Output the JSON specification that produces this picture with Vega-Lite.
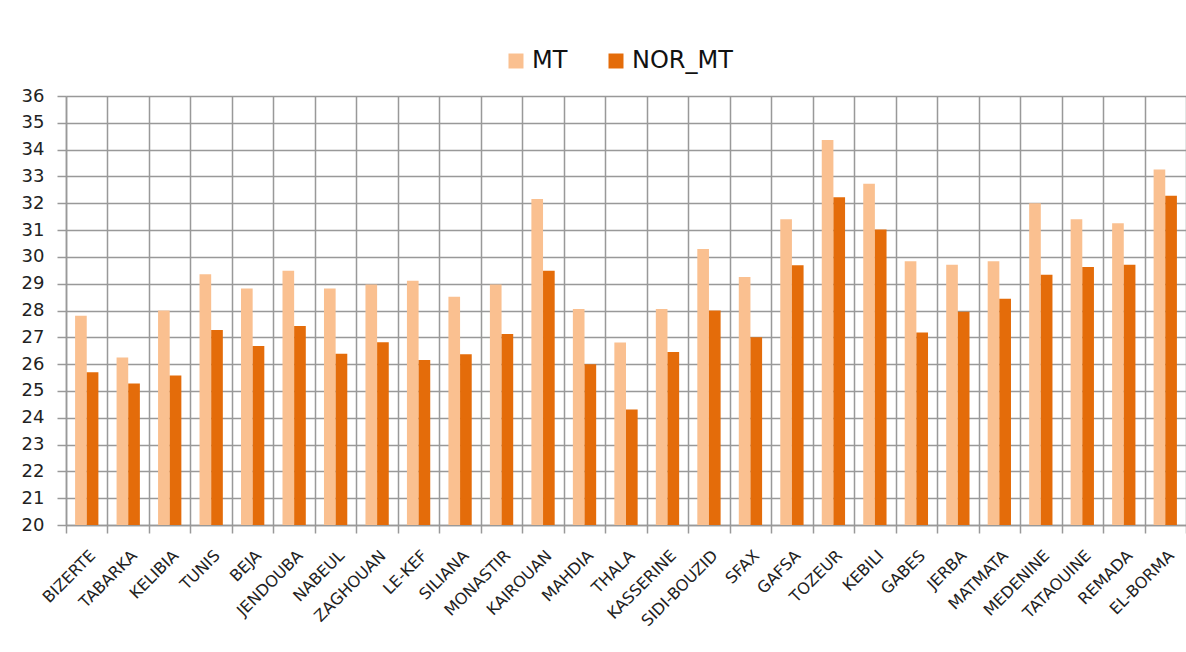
{
  "$schema": "https://vega.github.io/schema/vega-lite/v6.json",
  "autosize": {"type": "none"},
  "width": 1120,
  "height": 429,
  "padding": {"left": 66, "top": 96, "right": 0, "bottom": 127},
  "background": "white",
  "data": {"values": [
    {"station": "BIZERTE", "series": "MT", "value": 27.8},
    {"station": "BIZERTE", "series": "NOR_MT", "value": 25.7},
    {"station": "TABARKA", "series": "MT", "value": 26.25},
    {"station": "TABARKA", "series": "NOR_MT", "value": 25.28},
    {"station": "KELIBIA", "series": "MT", "value": 28.0},
    {"station": "KELIBIA", "series": "NOR_MT", "value": 25.58},
    {"station": "TUNIS", "series": "MT", "value": 29.35},
    {"station": "TUNIS", "series": "NOR_MT", "value": 27.27},
    {"station": "BEJA", "series": "MT", "value": 28.82},
    {"station": "BEJA", "series": "NOR_MT", "value": 26.68},
    {"station": "JENDOUBA", "series": "MT", "value": 29.48},
    {"station": "JENDOUBA", "series": "NOR_MT", "value": 27.42},
    {"station": "NABEUL", "series": "MT", "value": 28.82},
    {"station": "NABEUL", "series": "NOR_MT", "value": 26.39},
    {"station": "ZAGHOUAN", "series": "MT", "value": 28.97},
    {"station": "ZAGHOUAN", "series": "NOR_MT", "value": 26.82},
    {"station": "LE-KEF", "series": "MT", "value": 29.11},
    {"station": "LE-KEF", "series": "NOR_MT", "value": 26.15},
    {"station": "SILIANA", "series": "MT", "value": 28.51},
    {"station": "SILIANA", "series": "NOR_MT", "value": 26.37},
    {"station": "MONASTIR", "series": "MT", "value": 28.97},
    {"station": "MONASTIR", "series": "NOR_MT", "value": 27.12},
    {"station": "KAIROUAN", "series": "MT", "value": 32.16},
    {"station": "KAIROUAN", "series": "NOR_MT", "value": 29.48},
    {"station": "MAHDIA", "series": "MT", "value": 28.06},
    {"station": "MAHDIA", "series": "NOR_MT", "value": 26.0},
    {"station": "THALA", "series": "MT", "value": 26.81},
    {"station": "THALA", "series": "NOR_MT", "value": 24.31},
    {"station": "KASSERINE", "series": "MT", "value": 28.06},
    {"station": "KASSERINE", "series": "NOR_MT", "value": 26.45},
    {"station": "SIDI-BOUZID", "series": "MT", "value": 30.29},
    {"station": "SIDI-BOUZID", "series": "NOR_MT", "value": 28.0},
    {"station": "SFAX", "series": "MT", "value": 29.25},
    {"station": "SFAX", "series": "NOR_MT", "value": 27.0},
    {"station": "GAFSA", "series": "MT", "value": 31.4},
    {"station": "GAFSA", "series": "NOR_MT", "value": 29.69},
    {"station": "TOZEUR", "series": "MT", "value": 34.36},
    {"station": "TOZEUR", "series": "NOR_MT", "value": 32.22},
    {"station": "KEBILI", "series": "MT", "value": 32.73},
    {"station": "KEBILI", "series": "NOR_MT", "value": 31.02},
    {"station": "GABES", "series": "MT", "value": 29.84},
    {"station": "GABES", "series": "NOR_MT", "value": 27.18},
    {"station": "JERBA", "series": "MT", "value": 29.71},
    {"station": "JERBA", "series": "NOR_MT", "value": 27.95},
    {"station": "MATMATA", "series": "MT", "value": 29.84},
    {"station": "MATMATA", "series": "NOR_MT", "value": 28.44},
    {"station": "MEDENINE", "series": "MT", "value": 32.0},
    {"station": "MEDENINE", "series": "NOR_MT", "value": 29.33},
    {"station": "TATAOUINE", "series": "MT", "value": 31.4},
    {"station": "TATAOUINE", "series": "NOR_MT", "value": 29.62},
    {"station": "REMADA", "series": "MT", "value": 31.25},
    {"station": "REMADA", "series": "NOR_MT", "value": 29.71},
    {"station": "EL-BORMA", "series": "MT", "value": 33.26},
    {"station": "EL-BORMA", "series": "NOR_MT", "value": 32.28}
  ]},
  "mark": {"type": "bar", "clip": true},
  "encoding": {
    "x": {
      "field": "station",
      "type": "nominal",
      "sort": null,
      "scale": {"paddingInner": 0, "paddingOuter": 0},
      "axis": {
        "title": null,
        "tickBand": "extent",
        "labelAngle": -45,
        "labelFont": "DejaVu Sans",
        "labelFontSize": 16,
        "labelColor": "#222222",
        "labelPadding": 14,
        "labelDx": -4,
        "tickSize": 8,
        "tickColor": "#999999",
        "tickWidth": 1.5,
        "grid": true,
        "gridColor": "#999999",
        "gridWidth": 1.5,
        "gridOpacity": 1,
        "domainColor": "#999999",
        "domainWidth": 1.5
      }
    },
    "xOffset": {
      "field": "series",
      "type": "nominal",
      "sort": ["MT", "NOR_MT"],
      "scale": {"paddingInner": 0, "paddingOuter": 0.78}
    },
    "y": {
      "field": "value",
      "type": "quantitative",
      "scale": {"domain": [20, 36], "zero": false, "nice": false},
      "axis": {
        "title": null,
        "values": [20, 21, 22, 23, 24, 25, 26, 27, 28, 29, 30, 31, 32, 33, 34, 35, 36],
        "labelFont": "DejaVu Sans",
        "labelFontSize": 18,
        "labelColor": "#222222",
        "labelPadding": 13,
        "tickSize": 9,
        "tickColor": "#999999",
        "tickWidth": 1.5,
        "grid": true,
        "gridColor": "#999999",
        "gridWidth": 1.5,
        "gridOpacity": 1,
        "domain": true,
        "domainColor": "#999999",
        "domainWidth": 1.5
      }
    },
    "color": {
      "field": "series",
      "type": "nominal",
      "scale": {"domain": ["MT", "NOR_MT"], "range": ["#FAC090", "#E46C0A"]},
      "legend": {
        "title": null,
        "orient": "none",
        "direction": "horizontal",
        "legendX": 438,
        "legendY": -47,
        "symbolType": "square",
        "symbolSize": 225,
        "symbolStrokeWidth": 0,
        "symbolOpacity": 1,
        "labelFont": "DejaVu Sans",
        "labelFontSize": 24,
        "labelColor": "#111111",
        "labelOffset": 4,
        "columnPadding": 36
      }
    }
  },
  "config": {
    "view": {"stroke": null},
    "axis": {"labelFlush": false}
  }
}
